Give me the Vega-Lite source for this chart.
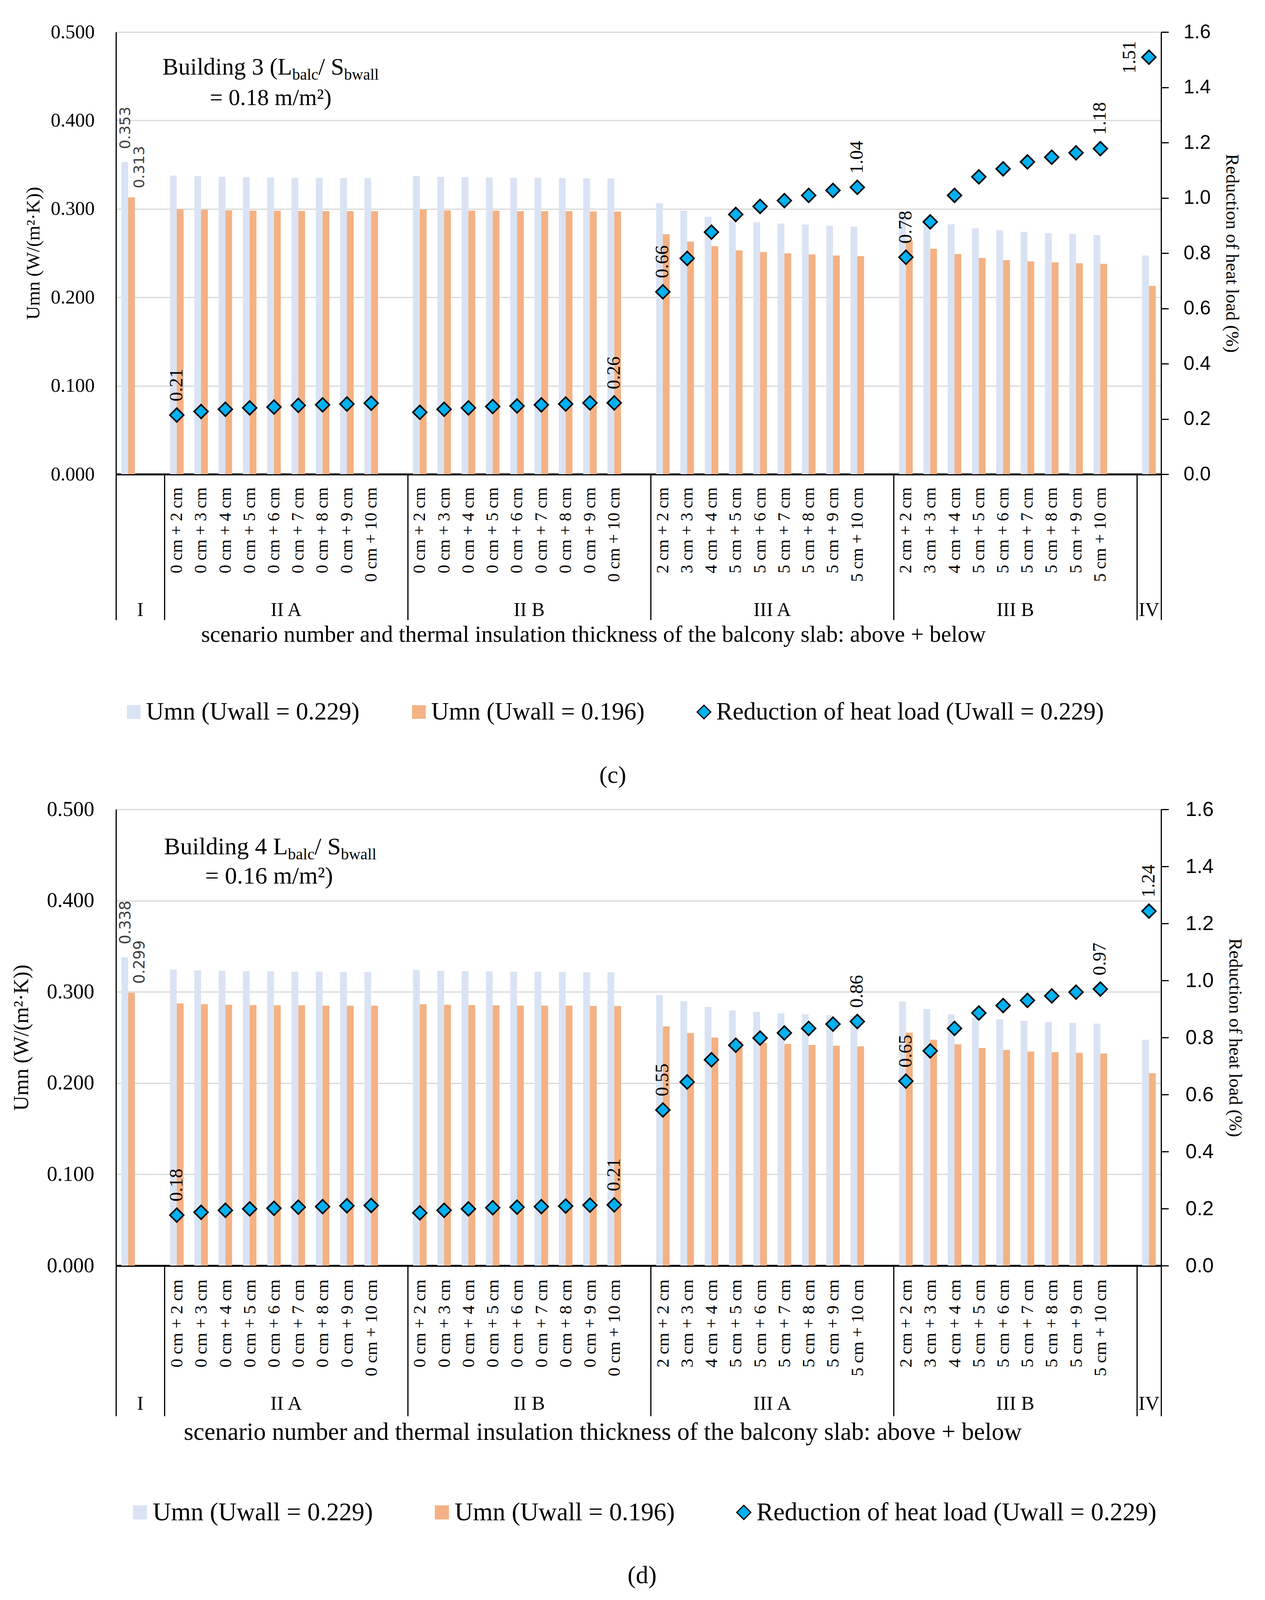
{
"$schema":"https://vega.github.io/schema/vega-lite/v6.json",
"background":"white",
"padding":{"left":28,"top":57,"right":0,"bottom":0},
"spacing":29,
"config":{"view":{"stroke":null},"axis":{"labelFont":"Liberation Serif","titleFont":"Liberation Serif","labelColor":"black","titleColor":"black","titleFontWeight":"normal","domainColor":"black"},"text":{"font":"Liberation Serif"}},
"datasets":{
"c":[
{"k":" ","s":"Umn (Uwall = 0.229)","v":0.353,"lb":"0.353"},
{"k":" ","s":"Umn (Uwall = 0.196)","v":0.313,"lb":"0.313"},
{"k":"0 cm + 2 cm","s":"Umn (Uwall = 0.229)","v":0.3377},
{"k":"0 cm + 2 cm","s":"Umn (Uwall = 0.196)","v":0.2996},
{"k":"0 cm + 2 cm","s":"Reduction of heat load (Uwall = 0.229)","v":0.214,"lb":"0.21"},
{"k":"0 cm + 3 cm","s":"Umn (Uwall = 0.229)","v":0.337},
{"k":"0 cm + 3 cm","s":"Umn (Uwall = 0.196)","v":0.299},
{"k":"0 cm + 3 cm","s":"Reduction of heat load (Uwall = 0.229)","v":0.227},
{"k":"0 cm + 4 cm","s":"Umn (Uwall = 0.229)","v":0.3364},
{"k":"0 cm + 4 cm","s":"Umn (Uwall = 0.196)","v":0.2984},
{"k":"0 cm + 4 cm","s":"Reduction of heat load (Uwall = 0.229)","v":0.235},
{"k":"0 cm + 5 cm","s":"Umn (Uwall = 0.229)","v":0.3358},
{"k":"0 cm + 5 cm","s":"Umn (Uwall = 0.196)","v":0.298},
{"k":"0 cm + 5 cm","s":"Reduction of heat load (Uwall = 0.229)","v":0.240},
{"k":"0 cm + 6 cm","s":"Umn (Uwall = 0.229)","v":0.3356},
{"k":"0 cm + 6 cm","s":"Umn (Uwall = 0.196)","v":0.298},
{"k":"0 cm + 6 cm","s":"Reduction of heat load (Uwall = 0.229)","v":0.243},
{"k":"0 cm + 7 cm","s":"Umn (Uwall = 0.229)","v":0.335},
{"k":"0 cm + 7 cm","s":"Umn (Uwall = 0.196)","v":0.2977},
{"k":"0 cm + 7 cm","s":"Reduction of heat load (Uwall = 0.229)","v":0.249},
{"k":"0 cm + 8 cm","s":"Umn (Uwall = 0.229)","v":0.335},
{"k":"0 cm + 8 cm","s":"Umn (Uwall = 0.196)","v":0.2975},
{"k":"0 cm + 8 cm","s":"Reduction of heat load (Uwall = 0.229)","v":0.251},
{"k":"0 cm + 9 cm","s":"Umn (Uwall = 0.229)","v":0.3348},
{"k":"0 cm + 9 cm","s":"Umn (Uwall = 0.196)","v":0.2975},
{"k":"0 cm + 9 cm","s":"Reduction of heat load (Uwall = 0.229)","v":0.254},
{"k":"0 cm + 10 cm","s":"Umn (Uwall = 0.229)","v":0.3346},
{"k":"0 cm + 10 cm","s":"Umn (Uwall = 0.196)","v":0.2975},
{"k":"0 cm + 10 cm","s":"Reduction of heat load (Uwall = 0.229)","v":0.257},
{"k":" 0 cm + 2 cm","s":"Umn (Uwall = 0.229)","v":0.337},
{"k":" 0 cm + 2 cm","s":"Umn (Uwall = 0.196)","v":0.2992},
{"k":" 0 cm + 2 cm","s":"Reduction of heat load (Uwall = 0.229)","v":0.224},
{"k":" 0 cm + 3 cm","s":"Umn (Uwall = 0.229)","v":0.3362},
{"k":" 0 cm + 3 cm","s":"Umn (Uwall = 0.196)","v":0.2984},
{"k":" 0 cm + 3 cm","s":"Reduction of heat load (Uwall = 0.229)","v":0.235},
{"k":" 0 cm + 4 cm","s":"Umn (Uwall = 0.229)","v":0.3358},
{"k":" 0 cm + 4 cm","s":"Umn (Uwall = 0.196)","v":0.298},
{"k":" 0 cm + 4 cm","s":"Reduction of heat load (Uwall = 0.229)","v":0.240},
{"k":" 0 cm + 5 cm","s":"Umn (Uwall = 0.229)","v":0.3356},
{"k":" 0 cm + 5 cm","s":"Umn (Uwall = 0.196)","v":0.298},
{"k":" 0 cm + 5 cm","s":"Reduction of heat load (Uwall = 0.229)","v":0.245},
{"k":" 0 cm + 6 cm","s":"Umn (Uwall = 0.229)","v":0.335},
{"k":" 0 cm + 6 cm","s":"Umn (Uwall = 0.196)","v":0.2975},
{"k":" 0 cm + 6 cm","s":"Reduction of heat load (Uwall = 0.229)","v":0.247},
{"k":" 0 cm + 7 cm","s":"Umn (Uwall = 0.229)","v":0.335},
{"k":" 0 cm + 7 cm","s":"Umn (Uwall = 0.196)","v":0.2975},
{"k":" 0 cm + 7 cm","s":"Reduction of heat load (Uwall = 0.229)","v":0.251},
{"k":" 0 cm + 8 cm","s":"Umn (Uwall = 0.229)","v":0.3348},
{"k":" 0 cm + 8 cm","s":"Umn (Uwall = 0.196)","v":0.2975},
{"k":" 0 cm + 8 cm","s":"Reduction of heat load (Uwall = 0.229)","v":0.254},
{"k":" 0 cm + 9 cm","s":"Umn (Uwall = 0.229)","v":0.3346},
{"k":" 0 cm + 9 cm","s":"Umn (Uwall = 0.196)","v":0.2971},
{"k":" 0 cm + 9 cm","s":"Reduction of heat load (Uwall = 0.229)","v":0.258},
{"k":" 0 cm + 10 cm","s":"Umn (Uwall = 0.229)","v":0.3346},
{"k":" 0 cm + 10 cm","s":"Umn (Uwall = 0.196)","v":0.297},
{"k":" 0 cm + 10 cm","s":"Reduction of heat load (Uwall = 0.229)","v":0.258,"lb":"0.26"},
{"k":"2 cm + 2 cm","s":"Umn (Uwall = 0.229)","v":0.3064},
{"k":"2 cm + 2 cm","s":"Umn (Uwall = 0.196)","v":0.2714},
{"k":"2 cm + 2 cm","s":"Reduction of heat load (Uwall = 0.229)","v":0.66,"lb":"0.66"},
{"k":"3 cm + 3 cm","s":"Umn (Uwall = 0.229)","v":0.298},
{"k":"3 cm + 3 cm","s":"Umn (Uwall = 0.196)","v":0.263},
{"k":"3 cm + 3 cm","s":"Reduction of heat load (Uwall = 0.229)","v":0.781},
{"k":"4 cm + 4 cm","s":"Umn (Uwall = 0.229)","v":0.2911},
{"k":"4 cm + 4 cm","s":"Umn (Uwall = 0.196)","v":0.2578},
{"k":"4 cm + 4 cm","s":"Reduction of heat load (Uwall = 0.229)","v":0.876},
{"k":"5 cm + 5 cm","s":"Umn (Uwall = 0.229)","v":0.287},
{"k":"5 cm + 5 cm","s":"Umn (Uwall = 0.196)","v":0.2531},
{"k":"5 cm + 5 cm","s":"Reduction of heat load (Uwall = 0.229)","v":0.94},
{"k":"5 cm + 6 cm","s":"Umn (Uwall = 0.229)","v":0.285},
{"k":"5 cm + 6 cm","s":"Umn (Uwall = 0.196)","v":0.2512},
{"k":"5 cm + 6 cm","s":"Reduction of heat load (Uwall = 0.229)","v":0.969},
{"k":"5 cm + 7 cm","s":"Umn (Uwall = 0.229)","v":0.2835},
{"k":"5 cm + 7 cm","s":"Umn (Uwall = 0.196)","v":0.2498},
{"k":"5 cm + 7 cm","s":"Reduction of heat load (Uwall = 0.229)","v":0.99},
{"k":"5 cm + 8 cm","s":"Umn (Uwall = 0.229)","v":0.2823},
{"k":"5 cm + 8 cm","s":"Umn (Uwall = 0.196)","v":0.2486},
{"k":"5 cm + 8 cm","s":"Reduction of heat load (Uwall = 0.229)","v":1.009},
{"k":"5 cm + 9 cm","s":"Umn (Uwall = 0.229)","v":0.2809},
{"k":"5 cm + 9 cm","s":"Umn (Uwall = 0.196)","v":0.2474},
{"k":"5 cm + 9 cm","s":"Reduction of heat load (Uwall = 0.229)","v":1.027},
{"k":"5 cm + 10 cm","s":"Umn (Uwall = 0.229)","v":0.2799},
{"k":"5 cm + 10 cm","s":"Umn (Uwall = 0.196)","v":0.2466},
{"k":"5 cm + 10 cm","s":"Reduction of heat load (Uwall = 0.229)","v":1.038,"lb":"1.04"},
{"k":" 2 cm + 2 cm","s":"Umn (Uwall = 0.229)","v":0.297},
{"k":" 2 cm + 2 cm","s":"Umn (Uwall = 0.196)","v":0.264},
{"k":" 2 cm + 2 cm","s":"Reduction of heat load (Uwall = 0.229)","v":0.785,"lb":"0.78"},
{"k":" 3 cm + 3 cm","s":"Umn (Uwall = 0.229)","v":0.289},
{"k":" 3 cm + 3 cm","s":"Umn (Uwall = 0.196)","v":0.255},
{"k":" 3 cm + 3 cm","s":"Reduction of heat load (Uwall = 0.229)","v":0.913},
{"k":" 4 cm + 4 cm","s":"Umn (Uwall = 0.229)","v":0.2826},
{"k":" 4 cm + 4 cm","s":"Umn (Uwall = 0.196)","v":0.249},
{"k":" 4 cm + 4 cm","s":"Reduction of heat load (Uwall = 0.229)","v":1.009},
{"k":" 5 cm + 5 cm","s":"Umn (Uwall = 0.229)","v":0.278},
{"k":" 5 cm + 5 cm","s":"Umn (Uwall = 0.196)","v":0.2446},
{"k":" 5 cm + 5 cm","s":"Reduction of heat load (Uwall = 0.229)","v":1.076},
{"k":" 5 cm + 6 cm","s":"Umn (Uwall = 0.229)","v":0.276},
{"k":" 5 cm + 6 cm","s":"Umn (Uwall = 0.196)","v":0.2421},
{"k":" 5 cm + 6 cm","s":"Reduction of heat load (Uwall = 0.229)","v":1.105},
{"k":" 5 cm + 7 cm","s":"Umn (Uwall = 0.229)","v":0.274},
{"k":" 5 cm + 7 cm","s":"Umn (Uwall = 0.196)","v":0.2406},
{"k":" 5 cm + 7 cm","s":"Reduction of heat load (Uwall = 0.229)","v":1.13},
{"k":" 5 cm + 8 cm","s":"Umn (Uwall = 0.229)","v":0.2725},
{"k":" 5 cm + 8 cm","s":"Umn (Uwall = 0.196)","v":0.2396},
{"k":" 5 cm + 8 cm","s":"Reduction of heat load (Uwall = 0.229)","v":1.147},
{"k":" 5 cm + 9 cm","s":"Umn (Uwall = 0.229)","v":0.2717},
{"k":" 5 cm + 9 cm","s":"Umn (Uwall = 0.196)","v":0.2386},
{"k":" 5 cm + 9 cm","s":"Reduction of heat load (Uwall = 0.229)","v":1.163},
{"k":" 5 cm + 10 cm","s":"Umn (Uwall = 0.229)","v":0.2704},
{"k":" 5 cm + 10 cm","s":"Umn (Uwall = 0.196)","v":0.2378},
{"k":" 5 cm + 10 cm","s":"Reduction of heat load (Uwall = 0.229)","v":1.178,"lb":"1.18"},
{"k":"       ","s":"Umn (Uwall = 0.229)","v":0.2474},
{"k":"       ","s":"Umn (Uwall = 0.196)","v":0.213},
{"k":"       ","s":"Reduction of heat load (Uwall = 0.229)","v":1.509,"lb":"1.51"}
],
"d":[
{"k":" ","s":"Umn (Uwall = 0.229)","v":0.338,"lb":"0.338"},
{"k":" ","s":"Umn (Uwall = 0.196)","v":0.299,"lb":"0.299"},
{"k":"0 cm + 2 cm","s":"Umn (Uwall = 0.229)","v":0.3245},
{"k":"0 cm + 2 cm","s":"Umn (Uwall = 0.196)","v":0.2873},
{"k":"0 cm + 2 cm","s":"Reduction of heat load (Uwall = 0.229)","v":0.177,"lb":"0.18"},
{"k":"0 cm + 3 cm","s":"Umn (Uwall = 0.229)","v":0.3235},
{"k":"0 cm + 3 cm","s":"Umn (Uwall = 0.196)","v":0.2865},
{"k":"0 cm + 3 cm","s":"Reduction of heat load (Uwall = 0.229)","v":0.187},
{"k":"0 cm + 4 cm","s":"Umn (Uwall = 0.229)","v":0.3231},
{"k":"0 cm + 4 cm","s":"Umn (Uwall = 0.196)","v":0.2859},
{"k":"0 cm + 4 cm","s":"Reduction of heat load (Uwall = 0.229)","v":0.194},
{"k":"0 cm + 5 cm","s":"Umn (Uwall = 0.229)","v":0.3227},
{"k":"0 cm + 5 cm","s":"Umn (Uwall = 0.196)","v":0.2855},
{"k":"0 cm + 5 cm","s":"Reduction of heat load (Uwall = 0.229)","v":0.199},
{"k":"0 cm + 6 cm","s":"Umn (Uwall = 0.229)","v":0.3227},
{"k":"0 cm + 6 cm","s":"Umn (Uwall = 0.196)","v":0.2853},
{"k":"0 cm + 6 cm","s":"Reduction of heat load (Uwall = 0.229)","v":0.201},
{"k":"0 cm + 7 cm","s":"Umn (Uwall = 0.229)","v":0.3221},
{"k":"0 cm + 7 cm","s":"Umn (Uwall = 0.196)","v":0.2853},
{"k":"0 cm + 7 cm","s":"Reduction of heat load (Uwall = 0.229)","v":0.205},
{"k":"0 cm + 8 cm","s":"Umn (Uwall = 0.229)","v":0.3221},
{"k":"0 cm + 8 cm","s":"Umn (Uwall = 0.196)","v":0.2849},
{"k":"0 cm + 8 cm","s":"Reduction of heat load (Uwall = 0.229)","v":0.207},
{"k":"0 cm + 9 cm","s":"Umn (Uwall = 0.229)","v":0.3219},
{"k":"0 cm + 9 cm","s":"Umn (Uwall = 0.196)","v":0.2849},
{"k":"0 cm + 9 cm","s":"Reduction of heat load (Uwall = 0.229)","v":0.210},
{"k":"0 cm + 10 cm","s":"Umn (Uwall = 0.229)","v":0.3219},
{"k":"0 cm + 10 cm","s":"Umn (Uwall = 0.196)","v":0.2849},
{"k":"0 cm + 10 cm","s":"Reduction of heat load (Uwall = 0.229)","v":0.211},
{"k":" 0 cm + 2 cm","s":"Umn (Uwall = 0.229)","v":0.3239},
{"k":" 0 cm + 2 cm","s":"Umn (Uwall = 0.196)","v":0.2865},
{"k":" 0 cm + 2 cm","s":"Reduction of heat load (Uwall = 0.229)","v":0.185},
{"k":" 0 cm + 3 cm","s":"Umn (Uwall = 0.229)","v":0.3231},
{"k":" 0 cm + 3 cm","s":"Umn (Uwall = 0.196)","v":0.2859},
{"k":" 0 cm + 3 cm","s":"Reduction of heat load (Uwall = 0.229)","v":0.194},
{"k":" 0 cm + 4 cm","s":"Umn (Uwall = 0.229)","v":0.3227},
{"k":" 0 cm + 4 cm","s":"Umn (Uwall = 0.196)","v":0.2855},
{"k":" 0 cm + 4 cm","s":"Reduction of heat load (Uwall = 0.229)","v":0.199},
{"k":" 0 cm + 5 cm","s":"Umn (Uwall = 0.229)","v":0.3225},
{"k":" 0 cm + 5 cm","s":"Umn (Uwall = 0.196)","v":0.2853},
{"k":" 0 cm + 5 cm","s":"Reduction of heat load (Uwall = 0.229)","v":0.203},
{"k":" 0 cm + 6 cm","s":"Umn (Uwall = 0.229)","v":0.3221},
{"k":" 0 cm + 6 cm","s":"Umn (Uwall = 0.196)","v":0.2849},
{"k":" 0 cm + 6 cm","s":"Reduction of heat load (Uwall = 0.229)","v":0.205},
{"k":" 0 cm + 7 cm","s":"Umn (Uwall = 0.229)","v":0.3221},
{"k":" 0 cm + 7 cm","s":"Umn (Uwall = 0.196)","v":0.2849},
{"k":" 0 cm + 7 cm","s":"Reduction of heat load (Uwall = 0.229)","v":0.207},
{"k":" 0 cm + 8 cm","s":"Umn (Uwall = 0.229)","v":0.3219},
{"k":" 0 cm + 8 cm","s":"Umn (Uwall = 0.196)","v":0.2849},
{"k":" 0 cm + 8 cm","s":"Reduction of heat load (Uwall = 0.229)","v":0.209},
{"k":" 0 cm + 9 cm","s":"Umn (Uwall = 0.229)","v":0.3215},
{"k":" 0 cm + 9 cm","s":"Umn (Uwall = 0.196)","v":0.2847},
{"k":" 0 cm + 9 cm","s":"Reduction of heat load (Uwall = 0.229)","v":0.212},
{"k":" 0 cm + 10 cm","s":"Umn (Uwall = 0.229)","v":0.3215},
{"k":" 0 cm + 10 cm","s":"Umn (Uwall = 0.196)","v":0.2845},
{"k":" 0 cm + 10 cm","s":"Reduction of heat load (Uwall = 0.229)","v":0.213,"lb":"0.21"},
{"k":"2 cm + 2 cm","s":"Umn (Uwall = 0.229)","v":0.2966},
{"k":"2 cm + 2 cm","s":"Umn (Uwall = 0.196)","v":0.2622},
{"k":"2 cm + 2 cm","s":"Reduction of heat load (Uwall = 0.229)","v":0.546,"lb":"0.55"},
{"k":"3 cm + 3 cm","s":"Umn (Uwall = 0.229)","v":0.2897},
{"k":"3 cm + 3 cm","s":"Umn (Uwall = 0.196)","v":0.2549},
{"k":"3 cm + 3 cm","s":"Reduction of heat load (Uwall = 0.229)","v":0.644},
{"k":"4 cm + 4 cm","s":"Umn (Uwall = 0.229)","v":0.2835},
{"k":"4 cm + 4 cm","s":"Umn (Uwall = 0.196)","v":0.2499},
{"k":"4 cm + 4 cm","s":"Reduction of heat load (Uwall = 0.229)","v":0.722},
{"k":"5 cm + 5 cm","s":"Umn (Uwall = 0.229)","v":0.2799},
{"k":"5 cm + 5 cm","s":"Umn (Uwall = 0.196)","v":0.2459},
{"k":"5 cm + 5 cm","s":"Reduction of heat load (Uwall = 0.229)","v":0.773},
{"k":"5 cm + 6 cm","s":"Umn (Uwall = 0.229)","v":0.2781},
{"k":"5 cm + 6 cm","s":"Umn (Uwall = 0.196)","v":0.2443},
{"k":"5 cm + 6 cm","s":"Reduction of heat load (Uwall = 0.229)","v":0.798},
{"k":"5 cm + 7 cm","s":"Umn (Uwall = 0.229)","v":0.2767},
{"k":"5 cm + 7 cm","s":"Umn (Uwall = 0.196)","v":0.2429},
{"k":"5 cm + 7 cm","s":"Reduction of heat load (Uwall = 0.229)","v":0.816},
{"k":"5 cm + 8 cm","s":"Umn (Uwall = 0.229)","v":0.2755},
{"k":"5 cm + 8 cm","s":"Umn (Uwall = 0.196)","v":0.2419},
{"k":"5 cm + 8 cm","s":"Reduction of heat load (Uwall = 0.229)","v":0.832},
{"k":"5 cm + 9 cm","s":"Umn (Uwall = 0.229)","v":0.2744},
{"k":"5 cm + 9 cm","s":"Umn (Uwall = 0.196)","v":0.241},
{"k":"5 cm + 9 cm","s":"Reduction of heat load (Uwall = 0.229)","v":0.847},
{"k":"5 cm + 10 cm","s":"Umn (Uwall = 0.229)","v":0.2738},
{"k":"5 cm + 10 cm","s":"Umn (Uwall = 0.196)","v":0.2404},
{"k":"5 cm + 10 cm","s":"Reduction of heat load (Uwall = 0.229)","v":0.856,"lb":"0.86"},
{"k":" 2 cm + 2 cm","s":"Umn (Uwall = 0.229)","v":0.2893},
{"k":" 2 cm + 2 cm","s":"Umn (Uwall = 0.196)","v":0.2553},
{"k":" 2 cm + 2 cm","s":"Reduction of heat load (Uwall = 0.229)","v":0.647,"lb":"0.65"},
{"k":" 3 cm + 3 cm","s":"Umn (Uwall = 0.229)","v":0.2813},
{"k":" 3 cm + 3 cm","s":"Umn (Uwall = 0.196)","v":0.2475},
{"k":" 3 cm + 3 cm","s":"Reduction of heat load (Uwall = 0.229)","v":0.753},
{"k":" 4 cm + 4 cm","s":"Umn (Uwall = 0.229)","v":0.2755},
{"k":" 4 cm + 4 cm","s":"Umn (Uwall = 0.196)","v":0.2425},
{"k":" 4 cm + 4 cm","s":"Reduction of heat load (Uwall = 0.229)","v":0.832},
{"k":" 5 cm + 5 cm","s":"Umn (Uwall = 0.229)","v":0.2718},
{"k":" 5 cm + 5 cm","s":"Umn (Uwall = 0.196)","v":0.2384},
{"k":" 5 cm + 5 cm","s":"Reduction of heat load (Uwall = 0.229)","v":0.886},
{"k":" 5 cm + 6 cm","s":"Umn (Uwall = 0.229)","v":0.27},
{"k":" 5 cm + 6 cm","s":"Umn (Uwall = 0.196)","v":0.2364},
{"k":" 5 cm + 6 cm","s":"Reduction of heat load (Uwall = 0.229)","v":0.912},
{"k":" 5 cm + 7 cm","s":"Umn (Uwall = 0.229)","v":0.2682},
{"k":" 5 cm + 7 cm","s":"Umn (Uwall = 0.196)","v":0.2346},
{"k":" 5 cm + 7 cm","s":"Reduction of heat load (Uwall = 0.229)","v":0.93},
{"k":" 5 cm + 8 cm","s":"Umn (Uwall = 0.229)","v":0.2672},
{"k":" 5 cm + 8 cm","s":"Umn (Uwall = 0.196)","v":0.234},
{"k":" 5 cm + 8 cm","s":"Reduction of heat load (Uwall = 0.229)","v":0.946},
{"k":" 5 cm + 9 cm","s":"Umn (Uwall = 0.229)","v":0.2662},
{"k":" 5 cm + 9 cm","s":"Umn (Uwall = 0.196)","v":0.2332},
{"k":" 5 cm + 9 cm","s":"Reduction of heat load (Uwall = 0.229)","v":0.959},
{"k":" 5 cm + 10 cm","s":"Umn (Uwall = 0.229)","v":0.2652},
{"k":" 5 cm + 10 cm","s":"Umn (Uwall = 0.196)","v":0.2324},
{"k":" 5 cm + 10 cm","s":"Reduction of heat load (Uwall = 0.229)","v":0.97,"lb":"0.97"},
{"k":"       ","s":"Umn (Uwall = 0.229)","v":0.2475},
{"k":"       ","s":"Umn (Uwall = 0.196)","v":0.2108},
{"k":"       ","s":"Reduction of heat load (Uwall = 0.229)","v":1.243,"lb":"1.24"}
]
},
"resolve":{"scale":{"color":"independent","shape":"independent"}},
"vconcat":[
{
"data":{"name":"c"},
"width":2676,
"height":1132,
"resolve":{"scale":{"y":"independent"},"axis":{"x":"independent"}},
"layer":[
{"layer":[
{"transform":[{"filter":"datum.s === 'Umn (Uwall = 0.229)' || datum.s === 'Umn (Uwall = 0.196)'"}],
 "mark":{"type":"bar"},
 "encoding":{
  "x":{"field":"k","type":"nominal","scale":{"domain":[" ","  ","0 cm + 2 cm","0 cm + 3 cm","0 cm + 4 cm","0 cm + 5 cm","0 cm + 6 cm","0 cm + 7 cm","0 cm + 8 cm","0 cm + 9 cm","0 cm + 10 cm","   "," 0 cm + 2 cm"," 0 cm + 3 cm"," 0 cm + 4 cm"," 0 cm + 5 cm"," 0 cm + 6 cm"," 0 cm + 7 cm"," 0 cm + 8 cm"," 0 cm + 9 cm"," 0 cm + 10 cm","    ","2 cm + 2 cm","3 cm + 3 cm","4 cm + 4 cm","5 cm + 5 cm","5 cm + 6 cm","5 cm + 7 cm","5 cm + 8 cm","5 cm + 9 cm","5 cm + 10 cm","     "," 2 cm + 2 cm"," 3 cm + 3 cm"," 4 cm + 4 cm"," 5 cm + 5 cm"," 5 cm + 6 cm"," 5 cm + 7 cm"," 5 cm + 8 cm"," 5 cm + 9 cm"," 5 cm + 10 cm","      ","       "],"paddingInner":0,"paddingOuter":0},
   "axis":{"orient":"bottom","title":null,"labelAngle":-90,"labelFontSize":44,"labelPadding":-340,"labelOverlap":false,"labelLimit":0,"labelBound":false,"ticks":true,"tickBand":"extent","tickSize":373,"tickWidth":3,"tickColor":"black","tickOpacity":{"condition":{"test":"datum.index < 0 || (length(datum.value) >= 2 && trim(datum.value) === '')","value":1},"value":0},"domainColor":"black","domainWidth":5,"grid":false}},
  "xOffset":{"field":"s","type":"nominal","sort":["Umn (Uwall = 0.229)","Umn (Uwall = 0.196)"],"scale":{"paddingInner":0,"paddingOuter":0.79}},
  "y":{"field":"v","type":"quantitative","stack":null,"scale":{"domain":[0,0.5],"nice":false},
   "axis":{"orient":"left","title":"Umn (W/(m²·K))","values":[0,0.1,0.2,0.3,0.4,0.5],"format":".3f","grid":true,"gridColor":"#d9d9d9","gridWidth":3,"ticks":false,"domainWidth":3,"labelFontSize":50,"labelPadding":55,"titleFontSize":49,"titlePadding":19}},
  "color":{"field":"s","type":"nominal","scale":{"domain":["Umn (Uwall = 0.229)","Umn (Uwall = 0.196)","Reduction of heat load (Uwall = 0.229)"],"range":["#dae3f3","#f4b183","#00b0f0"]},
   "legend":{"title":"(c)","titleOrient":"bottom","titleAnchor":"middle","titleFont":"Liberation Serif","titleFontSize":62,"titleFontWeight":"normal","titleColor":"black","titlePadding":100,"titleLimit":0,"orient":"none","legendX":14,"legendY":1709,"direction":"horizontal","labelFont":"Liberation Serif","labelFontSize":63,"labelColor":"black","labelLimit":0,"symbolSize":1225,"symbolOpacity":1,"labelOffset":0,"columnPadding":120,"encode":{"symbols":{"update":{"stroke":{"signal":"datum.value === 'Reduction of heat load (Uwall = 0.229)' ? 'black' : 'transparent'"},"strokeWidth":{"value":3}}}}}}}},
{"transform":[{"filter":"datum.s === 'Umn (Uwall = 0.229)' && datum.lb"}],
 "mark":{"type":"text","angle":270,"align":"left","baseline":"middle","dx":33,"dy":3,"font":"DejaVu Sans","fontSize":38,"color":"#404040"},
 "encoding":{"x":{"field":"k","type":"nominal"},
  "xOffset":{"field":"s","type":"nominal","sort":["Umn (Uwall = 0.229)","Umn (Uwall = 0.196)"]},
  "y":{"field":"v","type":"quantitative"},"text":{"field":"lb"}}},
{"transform":[{"filter":"datum.s === 'Umn (Uwall = 0.196)' && datum.lb"}],
 "mark":{"type":"text","angle":270,"align":"left","baseline":"middle","dx":23,"dy":21,"font":"DejaVu Sans","fontSize":38,"color":"#404040"},
 "encoding":{"x":{"field":"k","type":"nominal"},
  "xOffset":{"field":"s","type":"nominal","sort":["Umn (Uwall = 0.229)","Umn (Uwall = 0.196)"]},
  "y":{"field":"v","type":"quantitative"},"text":{"field":"lb"}}},
{"transform":[{"filter":"datum.k === '0 cm + 6 cm' && datum.s === 'Reduction of heat load (Uwall = 0.229)'"}],
 "mark":{"type":"text","text":"Building 3 (L","align":"left","baseline":"alphabetic","dx":-285.5,"fontSize":61,"font":"Liberation Serif","color":"black"},
 "encoding":{"x":{"field":"k","type":"nominal"},"y":{"datum":0.4517,"type":"quantitative"}}},
{"transform":[{"filter":"datum.k === '0 cm + 6 cm' && datum.s === 'Reduction of heat load (Uwall = 0.229)'"}],
 "mark":{"type":"text","text":"balc","align":"left","baseline":"alphabetic","dx":46.7,"dy":13,"fontSize":40,"font":"Liberation Serif","color":"black"},
 "encoding":{"x":{"field":"k","type":"nominal"},"y":{"datum":0.4517,"type":"quantitative"}}},
{"transform":[{"filter":"datum.k === '0 cm + 6 cm' && datum.s === 'Reduction of heat load (Uwall = 0.229)'"}],
 "mark":{"type":"text","text":"/ S","align":"left","baseline":"alphabetic","dx":113.4,"fontSize":61,"font":"Liberation Serif","color":"black"},
 "encoding":{"x":{"field":"k","type":"nominal"},"y":{"datum":0.4517,"type":"quantitative"}}},
{"transform":[{"filter":"datum.k === '0 cm + 6 cm' && datum.s === 'Reduction of heat load (Uwall = 0.229)'"}],
 "mark":{"type":"text","text":"bwall","align":"left","baseline":"alphabetic","dx":179.5,"dy":13,"fontSize":40,"font":"Liberation Serif","color":"black"},
 "encoding":{"x":{"field":"k","type":"nominal"},"y":{"datum":0.4517,"type":"quantitative"}}},
{"transform":[{"filter":"datum.k === '0 cm + 6 cm' && datum.s === 'Reduction of heat load (Uwall = 0.229)'"}],
 "mark":{"type":"text","text":"= 0.18 m/m²)","align":"center","baseline":"alphabetic","dx":-8.5,"fontSize":59,"font":"Liberation Serif","color":"black"},
 "encoding":{"x":{"field":"k","type":"nominal"},"y":{"datum":0.4175,"type":"quantitative"}}}
]},
{"layer":[
{"transform":[{"filter":"datum.s === 'Reduction of heat load (Uwall = 0.229)'"}],
 "mark":{"type":"point","shape":"diamond","filled":true,"stroke":"black","strokeWidth":4,"size":1250,"opacity":1},
 "encoding":{
  "x":{"field":"k","type":"nominal",
   "axis":{"orient":"bottom","title":"scenario number and thermal insulation thickness of the balcony slab: above + below","titleX":1222,"titleY":410,"titleAlign":"center","titleBaseline":"middle","values":[" ","0 cm + 6 cm"," 0 cm + 6 cm","5 cm + 6 cm"," 5 cm + 6 cm","       "],"labelExpr":"datum.value === ' ' ? 'I' : datum.value === '0 cm + 6 cm' ? 'II A' : datum.value === ' 0 cm + 6 cm' ? 'II B' : datum.value === '5 cm + 6 cm' ? 'III A' : datum.value === ' 5 cm + 6 cm' ? 'III B' : 'IV'","labelOffset":{"condition":{"test":"datum.value === '       '","value":0},"value":31.1},"labelAngle":0,"labelFontSize":50,"labelPadding":322,"labelOverlap":false,"labelBound":false,"ticks":false,"domain":false,"grid":false,"titleFontSize":59}},
  "y":{"field":"v","type":"quantitative","scale":{"domain":[0,1.6],"nice":false},
   "axis":{"orient":"right","title":"Reduction of heat load (%)","values":[0,0.2,0.4,0.6,0.8,1.0,1.2,1.4,1.6],"format":".1f","grid":false,"ticks":true,"tickSize":19,"tickWidth":3,"tickColor":"black","domainWidth":3,"labelFont":"Liberation Sans","labelFontSize":50,"labelPadding":38,"titleFontSize":47,"titlePadding":30}},
  "color":{"field":"s","type":"nominal","scale":{"domain":["Umn (Uwall = 0.229)","Umn (Uwall = 0.196)","Reduction of heat load (Uwall = 0.229)"],"range":["#dae3f3","#f4b183","#00b0f0"]},
   "legend":{"title":"(c)","titleOrient":"bottom","titleAnchor":"middle","titleFont":"Liberation Serif","titleFontSize":62,"titleFontWeight":"normal","titleColor":"black","titlePadding":100,"titleLimit":0,"orient":"none","legendX":14,"legendY":1709,"direction":"horizontal","labelFont":"Liberation Serif","labelFontSize":63,"labelColor":"black","labelLimit":0,"symbolSize":1225,"symbolOpacity":1,"labelOffset":0,"columnPadding":120,"encode":{"symbols":{"update":{"stroke":{"signal":"datum.value === 'Reduction of heat load (Uwall = 0.229)' ? 'black' : 'transparent'"},"strokeWidth":{"value":3}}}}}},
  "shape":{"field":"s","type":"nominal","scale":{"domain":["Umn (Uwall = 0.229)","Umn (Uwall = 0.196)","Reduction of heat load (Uwall = 0.229)"],"range":["square","square","diamond"]},
   "legend":{"title":"(c)","titleOrient":"bottom","titleAnchor":"middle","titleFont":"Liberation Serif","titleFontSize":62,"titleFontWeight":"normal","titleColor":"black","titlePadding":100,"titleLimit":0,"orient":"none","legendX":14,"legendY":1709,"direction":"horizontal","labelFont":"Liberation Serif","labelFontSize":63,"labelColor":"black","labelLimit":0,"symbolSize":1225,"symbolOpacity":1,"labelOffset":0,"columnPadding":120,"encode":{"symbols":{"update":{"stroke":{"signal":"datum.value === 'Reduction of heat load (Uwall = 0.229)' ? 'black' : 'transparent'"},"strokeWidth":{"value":3}}}}}}}},
{"transform":[{"filter":"datum.s === 'Reduction of heat load (Uwall = 0.229)' && datum.lb && datum.k !== '       '"}],
 "mark":{"type":"text","angle":270,"align":"left","baseline":"middle","dx":35,"font":"Liberation Serif","fontSize":48,"color":"black"},
 "encoding":{"x":{"field":"k","type":"nominal"},"y":{"field":"v","type":"quantitative"},"text":{"field":"lb"}}},
{"transform":[{"filter":"datum.s === 'Reduction of heat load (Uwall = 0.229)' && datum.k === '       '"}],
 "mark":{"type":"text","angle":270,"align":"center","baseline":"bottom","dy":-25,"font":"Liberation Serif","fontSize":48,"color":"black"},
 "encoding":{"x":{"field":"k","type":"nominal"},"y":{"field":"v","type":"quantitative"},"text":{"field":"lb"}}}
]}
]
},
{
"data":{"name":"d"},
"width":2676,
"height":1168,
"resolve":{"scale":{"y":"independent"},"axis":{"x":"independent"}},
"layer":[
{"layer":[
{"transform":[{"filter":"datum.s === 'Umn (Uwall = 0.229)' || datum.s === 'Umn (Uwall = 0.196)'"}],
 "mark":{"type":"bar"},
 "encoding":{
  "x":{"field":"k","type":"nominal","scale":{"domain":[" ","  ","0 cm + 2 cm","0 cm + 3 cm","0 cm + 4 cm","0 cm + 5 cm","0 cm + 6 cm","0 cm + 7 cm","0 cm + 8 cm","0 cm + 9 cm","0 cm + 10 cm","   "," 0 cm + 2 cm"," 0 cm + 3 cm"," 0 cm + 4 cm"," 0 cm + 5 cm"," 0 cm + 6 cm"," 0 cm + 7 cm"," 0 cm + 8 cm"," 0 cm + 9 cm"," 0 cm + 10 cm","    ","2 cm + 2 cm","3 cm + 3 cm","4 cm + 4 cm","5 cm + 5 cm","5 cm + 6 cm","5 cm + 7 cm","5 cm + 8 cm","5 cm + 9 cm","5 cm + 10 cm","     "," 2 cm + 2 cm"," 3 cm + 3 cm"," 4 cm + 4 cm"," 5 cm + 5 cm"," 5 cm + 6 cm"," 5 cm + 7 cm"," 5 cm + 8 cm"," 5 cm + 9 cm"," 5 cm + 10 cm","      ","       "],"paddingInner":0,"paddingOuter":0},
   "axis":{"orient":"bottom","title":null,"labelAngle":-90,"labelFontSize":45,"labelPadding":-350,"labelOverlap":false,"labelLimit":0,"labelBound":false,"ticks":true,"tickBand":"extent","tickSize":385,"tickWidth":3,"tickColor":"black","tickOpacity":{"condition":{"test":"datum.index < 0 || (length(datum.value) >= 2 && trim(datum.value) === '')","value":1},"value":0},"domainColor":"black","domainWidth":5,"grid":false}},
  "xOffset":{"field":"s","type":"nominal","sort":["Umn (Uwall = 0.229)","Umn (Uwall = 0.196)"],"scale":{"paddingInner":0,"paddingOuter":0.79}},
  "y":{"field":"v","type":"quantitative","stack":null,"scale":{"domain":[0,0.5],"nice":false},
   "axis":{"orient":"left","title":"Umn (W/(m²·K))","values":[0,0.1,0.2,0.3,0.4,0.5],"format":".3f","grid":true,"gridColor":"#d9d9d9","gridWidth":3,"ticks":false,"domainWidth":3,"labelFontSize":54,"labelPadding":56,"titleFontSize":54,"titlePadding":37}},
  "color":{"field":"s","type":"nominal","scale":{"domain":["Umn (Uwall = 0.229)","Umn (Uwall = 0.196)","Reduction of heat load (Uwall = 0.229)"],"range":["#dae3f3","#f4b183","#00b0f0"]},
   "legend":{"title":"(d)","titleOrient":"bottom","titleAnchor":"middle","titleFont":"Liberation Serif","titleFontSize":64,"titleFontWeight":"normal","titleColor":"black","titlePadding":97,"titleLimit":0,"orient":"none","legendX":29,"legendY":1767,"direction":"horizontal","labelFont":"Liberation Serif","labelFontSize":65,"labelColor":"black","labelLimit":0,"symbolSize":1300,"symbolOpacity":1,"labelOffset":0,"columnPadding":144,"encode":{"symbols":{"update":{"stroke":{"signal":"datum.value === 'Reduction of heat load (Uwall = 0.229)' ? 'black' : 'transparent'"},"strokeWidth":{"value":3}}}}}}}},
{"transform":[{"filter":"datum.s === 'Umn (Uwall = 0.229)' && datum.lb"}],
 "mark":{"type":"text","angle":270,"align":"left","baseline":"middle","dx":33,"dy":3,"font":"DejaVu Sans","fontSize":39,"color":"#404040"},
 "encoding":{"x":{"field":"k","type":"nominal"},
  "xOffset":{"field":"s","type":"nominal","sort":["Umn (Uwall = 0.229)","Umn (Uwall = 0.196)"]},
  "y":{"field":"v","type":"quantitative"},"text":{"field":"lb"}}},
{"transform":[{"filter":"datum.s === 'Umn (Uwall = 0.196)' && datum.lb"}],
 "mark":{"type":"text","angle":270,"align":"left","baseline":"middle","dx":23,"dy":21,"font":"DejaVu Sans","fontSize":39,"color":"#404040"},
 "encoding":{"x":{"field":"k","type":"nominal"},
  "xOffset":{"field":"s","type":"nominal","sort":["Umn (Uwall = 0.229)","Umn (Uwall = 0.196)"]},
  "y":{"field":"v","type":"quantitative"},"text":{"field":"lb"}}},
{"transform":[{"filter":"datum.k === '0 cm + 6 cm' && datum.s === 'Reduction of heat load (Uwall = 0.229)'"}],
 "mark":{"type":"text","text":"Building 4 L","align":"left","baseline":"alphabetic","dx":-281.4,"fontSize":62,"font":"Liberation Serif","color":"black"},
 "encoding":{"x":{"field":"k","type":"nominal"},"y":{"datum":0.4509,"type":"quantitative"}}},
{"transform":[{"filter":"datum.k === '0 cm + 6 cm' && datum.s === 'Reduction of heat load (Uwall = 0.229)'"}],
 "mark":{"type":"text","text":"balc","align":"left","baseline":"alphabetic","dx":35.6,"dy":13,"fontSize":41,"font":"Liberation Serif","color":"black"},
 "encoding":{"x":{"field":"k","type":"nominal"},"y":{"datum":0.4509,"type":"quantitative"}}},
{"transform":[{"filter":"datum.k === '0 cm + 6 cm' && datum.s === 'Reduction of heat load (Uwall = 0.229)'"}],
 "mark":{"type":"text","text":"/ S","align":"left","baseline":"alphabetic","dx":103.9,"fontSize":62,"font":"Liberation Serif","color":"black"},
 "encoding":{"x":{"field":"k","type":"nominal"},"y":{"datum":0.4509,"type":"quantitative"}}},
{"transform":[{"filter":"datum.k === '0 cm + 6 cm' && datum.s === 'Reduction of heat load (Uwall = 0.229)'"}],
 "mark":{"type":"text","text":"bwall","align":"left","baseline":"alphabetic","dx":171.2,"dy":13,"fontSize":41,"font":"Liberation Serif","color":"black"},
 "encoding":{"x":{"field":"k","type":"nominal"},"y":{"datum":0.4509,"type":"quantitative"}}},
{"transform":[{"filter":"datum.k === '0 cm + 6 cm' && datum.s === 'Reduction of heat load (Uwall = 0.229)'"}],
 "mark":{"type":"text","text":"= 0.16 m/m²)","align":"center","baseline":"alphabetic","dx":-12.5,"fontSize":62,"font":"Liberation Serif","color":"black"},
 "encoding":{"x":{"field":"k","type":"nominal"},"y":{"datum":0.4185,"type":"quantitative"}}}
]},
{"layer":[
{"transform":[{"filter":"datum.s === 'Reduction of heat load (Uwall = 0.229)'"}],
 "mark":{"type":"point","shape":"diamond","filled":true,"stroke":"black","strokeWidth":4,"size":1250,"opacity":1},
 "encoding":{
  "x":{"field":"k","type":"nominal",
   "axis":{"orient":"bottom","title":"scenario number and thermal insulation thickness of the balcony slab: above + below","titleX":1246,"titleY":426,"titleAlign":"center","titleBaseline":"middle","values":[" ","0 cm + 6 cm"," 0 cm + 6 cm","5 cm + 6 cm"," 5 cm + 6 cm","       "],"labelExpr":"datum.value === ' ' ? 'I' : datum.value === '0 cm + 6 cm' ? 'II A' : datum.value === ' 0 cm + 6 cm' ? 'II B' : datum.value === '5 cm + 6 cm' ? 'III A' : datum.value === ' 5 cm + 6 cm' ? 'III B' : 'IV'","labelOffset":{"condition":{"test":"datum.value === '       '","value":0},"value":31.1},"labelAngle":0,"labelFontSize":51,"labelPadding":328,"labelOverlap":false,"labelBound":false,"ticks":false,"domain":false,"grid":false,"titleFontSize":63}},
  "y":{"field":"v","type":"quantitative","scale":{"domain":[0,1.6],"nice":false},
   "axis":{"orient":"right","title":"Reduction of heat load (%)","values":[0,0.2,0.4,0.6,0.8,1.0,1.2,1.4,1.6],"format":".1f","grid":false,"ticks":true,"tickSize":19,"tickWidth":3,"tickColor":"black","domainWidth":3,"labelFont":"Liberation Sans","labelFontSize":52,"labelPadding":43,"titleFontSize":47,"titlePadding":30}},
  "color":{"field":"s","type":"nominal","scale":{"domain":["Umn (Uwall = 0.229)","Umn (Uwall = 0.196)","Reduction of heat load (Uwall = 0.229)"],"range":["#dae3f3","#f4b183","#00b0f0"]},
   "legend":{"title":"(d)","titleOrient":"bottom","titleAnchor":"middle","titleFont":"Liberation Serif","titleFontSize":64,"titleFontWeight":"normal","titleColor":"black","titlePadding":97,"titleLimit":0,"orient":"none","legendX":29,"legendY":1767,"direction":"horizontal","labelFont":"Liberation Serif","labelFontSize":65,"labelColor":"black","labelLimit":0,"symbolSize":1300,"symbolOpacity":1,"labelOffset":0,"columnPadding":144,"encode":{"symbols":{"update":{"stroke":{"signal":"datum.value === 'Reduction of heat load (Uwall = 0.229)' ? 'black' : 'transparent'"},"strokeWidth":{"value":3}}}}}},
  "shape":{"field":"s","type":"nominal","scale":{"domain":["Umn (Uwall = 0.229)","Umn (Uwall = 0.196)","Reduction of heat load (Uwall = 0.229)"],"range":["square","square","diamond"]},
   "legend":{"title":"(d)","titleOrient":"bottom","titleAnchor":"middle","titleFont":"Liberation Serif","titleFontSize":64,"titleFontWeight":"normal","titleColor":"black","titlePadding":97,"titleLimit":0,"orient":"none","legendX":29,"legendY":1767,"direction":"horizontal","labelFont":"Liberation Serif","labelFontSize":65,"labelColor":"black","labelLimit":0,"symbolSize":1300,"symbolOpacity":1,"labelOffset":0,"columnPadding":144,"encode":{"symbols":{"update":{"stroke":{"signal":"datum.value === 'Reduction of heat load (Uwall = 0.229)' ? 'black' : 'transparent'"},"strokeWidth":{"value":3}}}}}}}},
{"transform":[{"filter":"datum.s === 'Reduction of heat load (Uwall = 0.229)' && datum.lb"}],
 "mark":{"type":"text","angle":270,"align":"left","baseline":"middle","dx":35,"font":"Liberation Serif","fontSize":48,"color":"black"},
 "encoding":{"x":{"field":"k","type":"nominal"},"y":{"field":"v","type":"quantitative"},"text":{"field":"lb"}}}
]}
]
}
]
}
